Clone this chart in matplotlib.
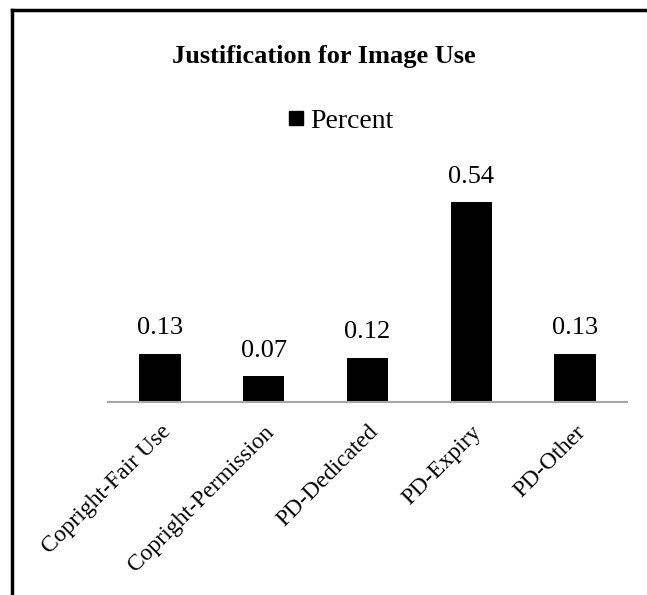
import matplotlib.pyplot as plt
from matplotlib.lines import Line2D

categories = ["Copright-Fair Use", "Copright-Permission", "PD-Dedicated", "PD-Expiry", "PD-Other"]
percent = [0.13, 0.07, 0.12, 0.54, 0.13]

plt.rcParams['font.family'] = ['Liberation Serif', 'DejaVu Serif']

fig = plt.figure(figsize=(6.47, 5.95), dpi=100)
ax = fig.add_axes([108 / 647, 1 - 402 / 595, 519 / 647, 222 / 595])

x = list(range(len(categories)))
bars = ax.bar(x, percent, width=0.4, color='black', label='Percent')
for xi, v in zip(x, percent):
    ax.annotate(f"{v:.2f}", (xi, v), xytext=(0, 14), textcoords='offset points',
                ha='center', va='baseline', fontsize=19)

ax.set_xlim(-0.5, len(categories) - 0.5)
ax.set_ylim(0, 0.6)
ax.set_yticks([])
ax.set_xticks(x)
ax.set_xticklabels(categories, rotation=45, ha='right', rotation_mode='anchor', fontsize=17)
ax.tick_params(axis='x', length=0, pad=14)
for s in ['top', 'left', 'right']:
    ax.spines[s].set_visible(False)
ax.spines['bottom'].set_color('#a6a6a6')
ax.spines['bottom'].set_linewidth(1.5)

fig.text(0.5, 1 - 63 / 595, "Justification for Image Use", ha='center', va='baseline',
         fontsize=19, fontweight='bold')
fig.legend(handles=[Line2D([], [], marker='s', color='black', linestyle='', markersize=10)],
           labels=['Percent'], loc='center', bbox_to_anchor=(339 / 647, 1 - 121 / 595),
           frameon=False, fontsize=20, handletextpad=0.1, handlelength=0.8)

# outer frame (left and top edges)
fig.add_artist(Line2D([12 / 647, 12 / 647], [0, 1 - 10 / 595], color='black', lw=2.5))
fig.add_artist(Line2D([12 / 647, 1], [1 - 10 / 595, 1 - 10 / 595], color='black', lw=2.5))

fig.savefig("out.png", dpi=100)
